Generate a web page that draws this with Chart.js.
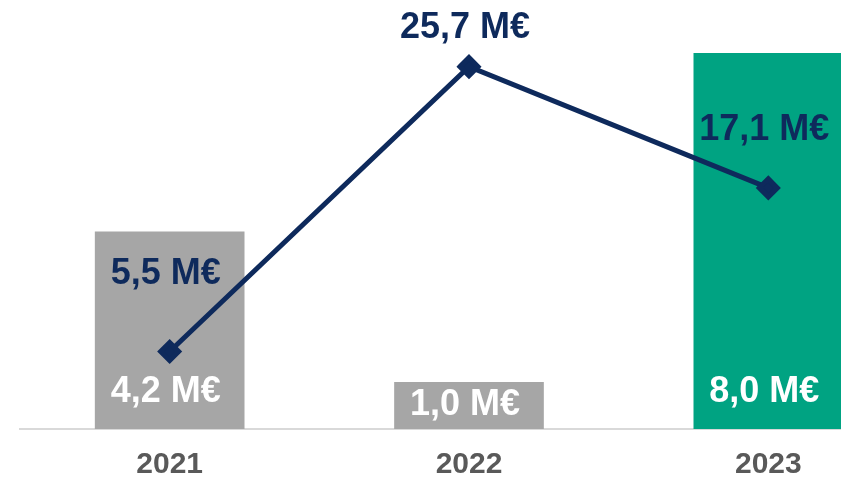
<!DOCTYPE html>
<html>
<head>
<meta charset="utf-8">
<script src="https://cdn.jsdelivr.net/npm/chart.js@4"></script>
<style>
    html, body { margin: 0; padding: 0; background: #fff; overflow: hidden; }
    #wrap { width: 940px; height: 498px; position: relative; }
</style>
</head>
<body>
<div id="wrap"><canvas id="chart"></canvas></div>
<script>
// Data
const years = ['2021', '2022', '2023'];
const barValues = [4.2, 1.0, 8.0];
const lineValues = [5.5, 25.7, 17.1];
const lineLabelLift = [77, 39, 58];

const GRAY = '#A6A6A6';
const GREEN = '#00A382';
const NAVY = '#0E2A5C';
const FONT = '"Liberation Sans", Arial, sans-serif';

const fmt = v => v.toFixed(1).replace('.', ',') + ' M€';

// draws the value labels on bars and points
const valueLabels = {
    id: 'valueLabels',
    afterDatasetsDraw(chart) {
        const ctx = chart.ctx;
        const base = chart.scales.yBar.getPixelForValue(0);
        ctx.save();
        ctx.font = 'bold 36px ' + FONT;
        ctx.textAlign = 'center';
        ctx.textBaseline = 'middle';

        chart.getDatasetMeta(1).data.forEach((bar, i) => {
            const mid = (bar.y + base) / 2;
            ctx.fillStyle = '#FFFFFF';
            ctx.fillText(fmt(barValues[i]), bar.x - 4, Math.max(base - 37, mid));
        });

        chart.getDatasetMeta(0).data.forEach((pt, i) => {
            ctx.fillStyle = NAVY;
            ctx.fillText(fmt(lineValues[i]), pt.x - 4, pt.y - lineLabelLift[i]);
        });
        ctx.restore();
    }
};

new Chart(document.getElementById('chart'), {
    type: 'bar',
    data: {
        labels: years,
        datasets: [
            {
                type: 'line',
                data: lineValues,
                yAxisID: 'yLine',
                borderColor: NAVY,
                borderWidth: 5,
                backgroundColor: NAVY,
                pointStyle: 'rectRot',
                pointRadius: 9,
                pointHoverRadius: 9,
                tension: 0,
                order: 0
            },
            {
                type: 'bar',
                data: barValues,
                yAxisID: 'yBar',
                backgroundColor: [GRAY, GRAY, GREEN],
                categoryPercentage: 1,
                barPercentage: 0.5,
                order: 1
            }
        ]
    },
    options: {
        responsive: true,
        maintainAspectRatio: false,
        animation: false,
        layout: { autoPadding: false, padding: { left: 20, right: 22, top: 6, bottom: 5 } },
        plugins: {
            legend: { display: false },
            tooltip: { enabled: false }
        },
        scales: {
            x: {
                grid: { display: false },
                border: { display: true, color: '#D9D9D9', width: 2 },
                ticks: {
                    color: '#595959',
                    font: { family: FONT, size: 30, weight: 'bold' },
                    padding: 10
                }
            },
            yBar: {
                display: false,
                min: 0,
                max: 9
            },
            yLine: {
                display: false,
                min: 0,
                max: 30
            }
        }
    },
    plugins: [valueLabels]
});
</script>
</body>
</html>
